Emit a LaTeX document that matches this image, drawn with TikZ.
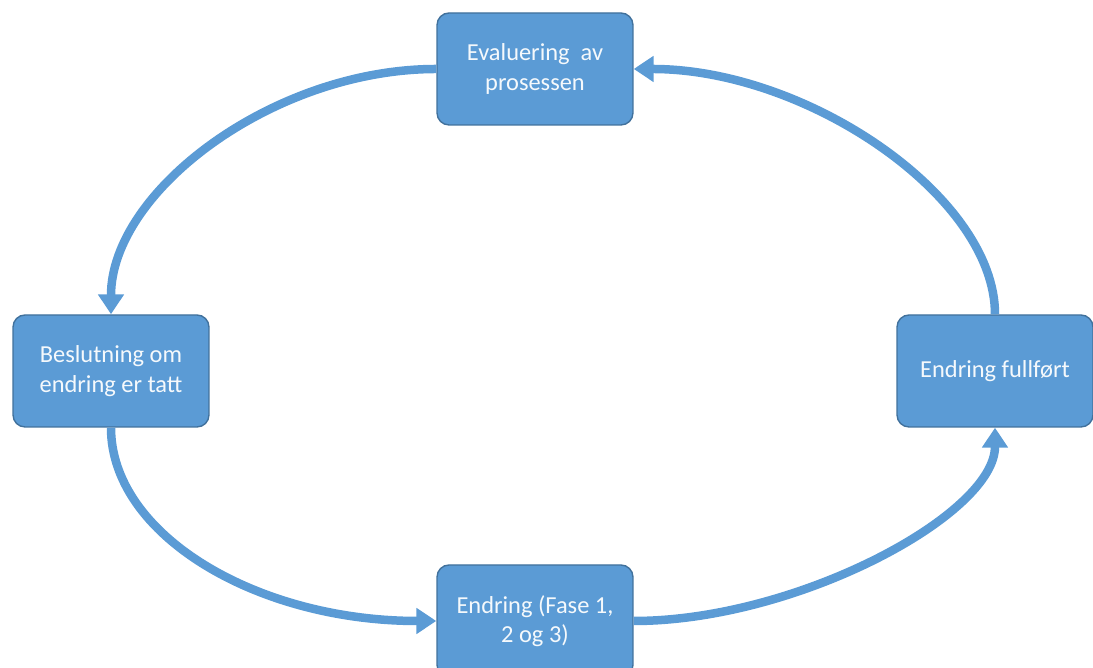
\documentclass[tikz,border=0pt]{standalone}
\usepackage{fontspec}
\setmainfont{Carlito}
\usepackage{xcolor}
\usepackage{tikz}
\usetikzlibrary{arrows.meta}
\definecolor{boxblue}{HTML}{5B9BD5}
\definecolor{boxedge}{HTML}{41719C}

\begin{document}
\begin{tikzpicture}[x=0.02cm,y=0.02cm,
                        main node/.style={rectangle,rounded corners=0.24cm,draw=boxedge,line width=0.8pt,
                          fill=boxblue,text=white!94!boxblue,align=center,minimum width=3.92cm,minimum height=2.24cm,
                          font=\fontsize{13.9}{16.7}\selectfont},
                        flow/.style={draw=boxblue,line width=0.17cm,-{Triangle[width=0.5cm,length=0.4cm]}}]
      \useasboundingbox (0,0) rectangle (1093,668);
      \node[main node] (eval) at (535,599) {Evaluering~ av\\prosessen};
      \node[main node] (beslut) at (111,297) {Beslutning om\\endring er tatt};
      \node[main node] (fullfort) at (995,297) {Endring fullført};
      \node[main node] (endring) at (535,47) {Endring (Fase 1,\\2 og 3)};

      % round the cycle
      \draw[flow] (eval.west) to[out=180,in=90,out distance=3.26cm,in distance=2.46cm] (beslut.north);
      \draw[flow] (beslut.south) to[out=270,in=180,out distance=2.14cm,in distance=3.6cm] (endring.west);
      \draw[flow] (endring.east) to[out=0,in=270,out distance=3.26cm,in distance=1.74cm] (fullfort.south);
      \draw[flow] (fullfort.north) to[out=90,in=0,out distance=2.35cm,in distance=3.47cm] (eval.east);
\end{tikzpicture}
\end{document}
